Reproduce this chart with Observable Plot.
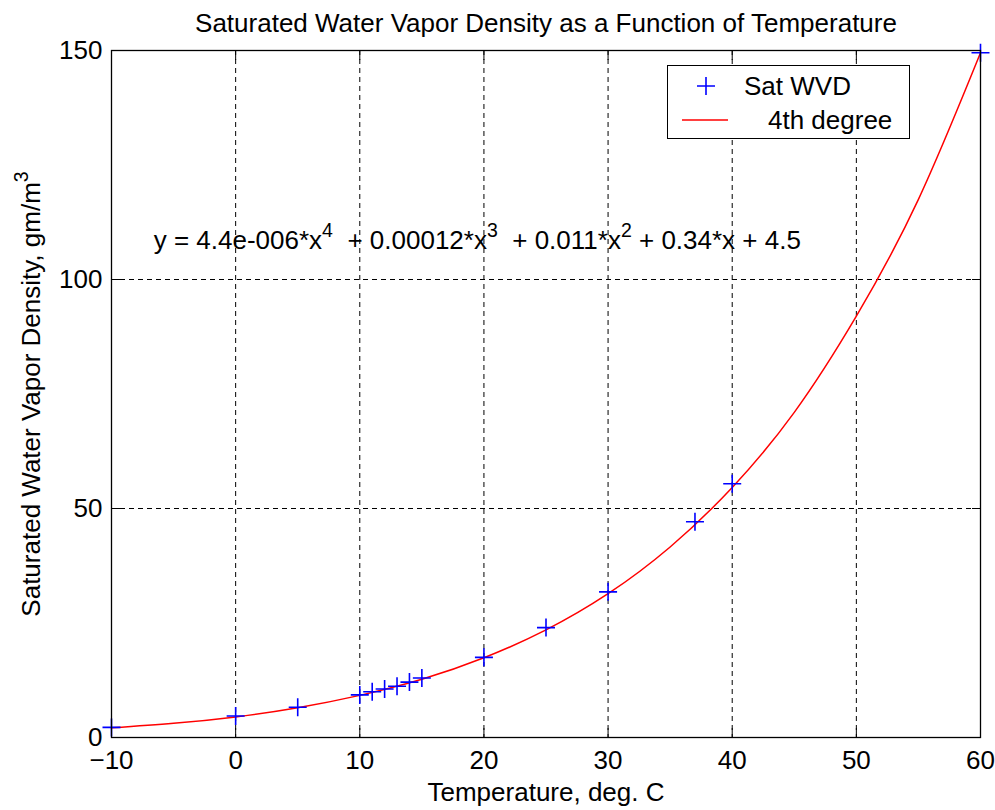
<!DOCTYPE html>
<html>
<head>
<meta charset="utf-8">
<script src="https://cdn.jsdelivr.net/npm/d3@7"></script>
<script src="https://cdn.jsdelivr.net/npm/@observablehq/plot@0.6"></script>
<style>
  html, body { margin: 0; padding: 0; background: #fff; }
  #wrap { position: relative; width: 995px; height: 810px; }
  #legend { position: absolute; left: 667px; top: 65px; width: 243px; height: 74px;
            border: 1.2px solid #000; background: #fff; box-sizing: border-box; }
</style>
</head>
<body>
<div id="wrap"></div>
<script>
// ---- data ----
const temps = [-10, 0, 5, 10, 11, 12, 13, 14, 15, 20, 25, 30, 37, 40, 60];
const density = [2.2, 4.7, 6.6, 9.3, 10.0, 10.6, 11.2, 12.1, 13.0, 17.5, 24.0, 31.8, 47.1, 55.4, 149.5];

const fitTemps = [-10, -5, 0, 5, 10, 15, 20, 25, 30, 35, 40, 45, 50, 55, 60];
const fitDensity = [2.1, 3.1, 4.5, 6.5, 9.2, 12.7, 17.4, 23.5, 31.4, 41.6, 54.6, 71.0, 92.0, 117.5, 149.5];

const xTicks = [-10, 0, 10, 20, 30, 40, 50, 60];
const yTicks = [0, 50, 100, 150];

const titleText = "Saturated Water Vapor Density as a Function of Temperature";
const xLabel = "Temperature, deg. C";
const yLabel = "Saturated Water Vapor Density, gm/m^3";
const equation = "y = 4.4e-006*x^4  + 0.00012*x^3  + 0.011*x^2 + 0.34*x + 4.5";
const equationAt = {x: -6.6, y: 108.5};
const legendLabels = ["Sat WVD", "4th degree"];

// ---- build tables ----
const points = temps.map((t, i) => ({t, v: density[i]}));
const fit = fitTemps.map((t, i) => ({t, v: fitDensity[i]}));

const thinPlus = {
  draw(ctx, size) {
    const r = Math.sqrt(size / Math.PI);
    ctx.moveTo(-r, 0); ctx.lineTo(r, 0);
    ctx.moveTo(0, -r); ctx.lineTo(0, r);
  }
};

const FONT = "'Liberation Sans', Arial, sans-serif";
const FS = 26;

const chart = Plot.plot({
  width: 995,
  height: 810,
  marginLeft: 111,
  marginRight: 15,
  marginTop: 50,
  marginBottom: 73,
  style: {fontFamily: FONT, fontSize: FS + "px", color: "#000", background: "#fff", overflow: "visible"},
  x: {domain: [-10, 60]},
  y: {domain: [0, 150]},
  marks: [
    Plot.gridX(xTicks, {stroke: "#000", strokeOpacity: 1, strokeDasharray: "5,4"}),
    Plot.gridY(yTicks, {stroke: "#000", strokeOpacity: 1, strokeDasharray: "5,4"}),
    Plot.text([equation], {x: () => equationAt.x, y: () => equationAt.y, text: d => d,
      textAnchor: "start", fill: "#000", fontSize: FS}),
    Plot.line(fit, {x: "t", y: "v", stroke: "#ff0000", strokeWidth: 1.5, curve: "natural"}),
    Plot.dot(points, {x: "t", y: "v", symbol: thinPlus, r: 9, stroke: "#0000ff", strokeWidth: 1.6, fill: "none"}),
    Plot.frame({stroke: "#000", strokeWidth: 1.3}),
    Plot.axisX(xTicks, {anchor: "bottom", tickSize: -9, tickPadding: 22, label: xLabel,
      labelAnchor: "center", labelOffset: 63, labelArrow: "none", stroke: "#000"}),
    Plot.axisX(xTicks, {anchor: "top", tickSize: -9, tickFormat: () => "", label: null, stroke: "#000"}),
    Plot.axisY(yTicks, {anchor: "left", tickSize: -9, tickPadding: 18, label: yLabel,
      labelAnchor: "center", labelOffset: 90, labelArrow: "none", stroke: "#000"}),
    Plot.axisY(yTicks, {anchor: "right", tickSize: -9, tickFormat: () => "", label: null, stroke: "#000"}),
    Plot.text([titleText], {frameAnchor: "top", dy: -37, text: d => d, fill: "#000", fontSize: FS})
  ]
});

// superscripts: turn "^n" into raised tspans
d3.select(chart).selectAll("text").each(function () {
  const el = this;
  const targets = el.querySelectorAll("tspan").length ? el.querySelectorAll("tspan") : [el];
  targets.forEach(node => {
    const s = node.textContent;
    if (!s || s.indexOf("^") < 0) return;
    while (node.firstChild) node.removeChild(node.firstChild);
    const parts = s.split(/\^(\d)/);
    parts.forEach((p, i) => {
      const ts = document.createElementNS("http://www.w3.org/2000/svg", "tspan");
      if (i % 2 === 1) {
        ts.setAttribute("dy", "-12");
        ts.setAttribute("font-size", (FS * 0.75) + "px");
        ts.textContent = p;
      } else {
        if (i > 0) ts.setAttribute("dy", "12");
        ts.style.whiteSpace = "pre";
        ts.textContent = p;
      }
      node.appendChild(ts);
    });
  });
});

document.getElementById("wrap").appendChild(chart);

// legend
const legend = document.createElement("div");
legend.id = "legend";
legend.innerHTML = `
<svg width="241" height="72" style="font-family:${FONT};font-size:${FS}px">
  <path d="M38,11V29M29,20H47" stroke="#0000ff" stroke-width="1.6"/>
  <text x="76" y="20" dy="0.35em" fill="#000">${legendLabels[0]}</text>
  <path d="M14,54H60" stroke="#ff0000" stroke-width="1.5"/>
  <text x="100" y="54" dy="0.35em" fill="#000">${legendLabels[1]}</text>
</svg>`;
document.getElementById("wrap").appendChild(legend);
</script>
</body>
</html>
